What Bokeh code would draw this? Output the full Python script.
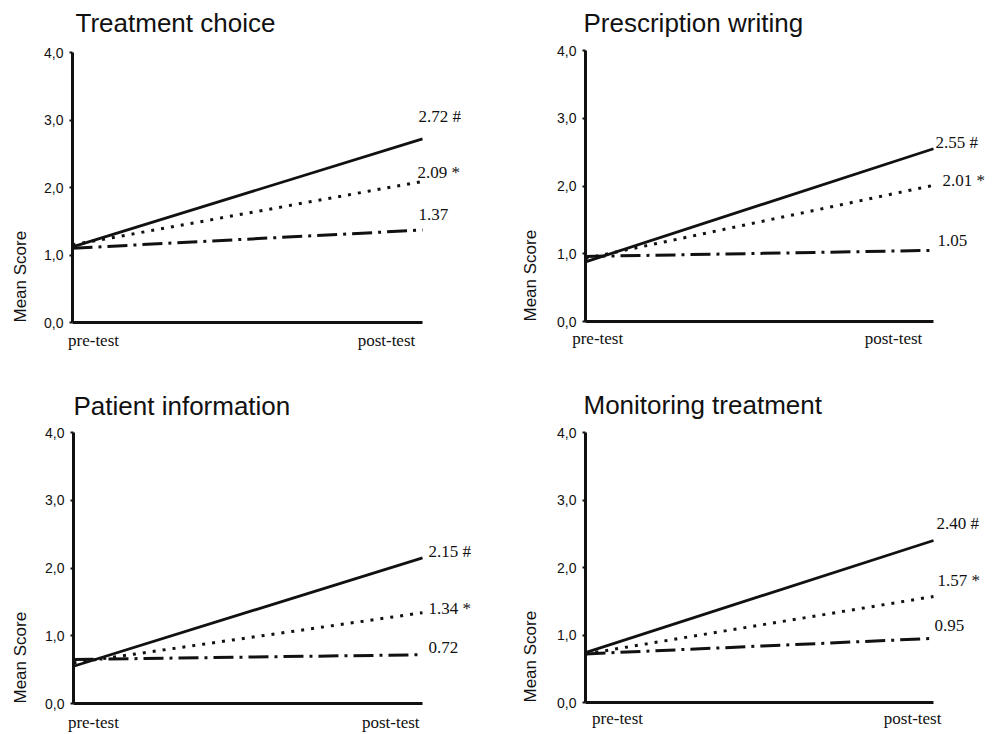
import math
from bokeh.plotting import figure
from bokeh.models import Range1d, FixedTicker, Label, LinearAxis
from bokeh.layouts import column, row
from bokeh.embed import file_html
from bokeh.resources import INLINE

# ---- data ----
categories = ["pre-test", "post-test"]
titles = ["Treatment choice", "Prescription writing", "Patient information", "Monitoring treatment"]
solid_pre = [1.12, 0.88, 0.55, 0.74]
solid_post = [2.72, 2.55, 2.15, 2.40]
dotted_pre = [1.15, 0.93, 0.60, 0.72]
dotted_post = [2.09, 2.01, 1.34, 1.57]
dashdot_pre = [1.10, 0.96, 0.65, 0.72]
dashdot_post = [1.37, 1.05, 0.72, 0.95]
solid_mark = "#"
dotted_mark = "*"
dashdot_mark = ""
y_ticks = [0, 1, 2, 3, 4]
y_tick_labels = ["0,0", "1,0", "2,0", "3,0", "4,0"]
y_label = "Mean Score"

# ---- layout / style (pixels, not data) ----
# figure width, height, axis x px, line-end x px, y(4) px, y(0) px
geom = [(497, 375, 72, 422, 52, 322),
        (493, 375, 88, 436, 50, 321),
        (497, 358, 73, 422, 57, 328),
        (493, 358, 88, 436, 57, 327)]
cat_pos = [(0.06, 0.897), (0.035, 0.885), (0.057, 0.909), (0.092, 0.94)]
cat_dy = [18, 17, 19, 16]
lab_dx = [[-4, -5, -4], [2, 9, 4], [6, 6, 6], [3, 4, 1]]
lab_dy = [[22, 9, 16], [6, 5, 10], [6, 4, 7], [17, 16, 13]]
title_dx = [3, -2, 0, -2]
title_dy = [30, 28, 27, 28]
ylab_dx = [-52, -55, -53, -55]

SANS = "Liberation Sans"
SERIF = "Liberation Serif"
INK = "#111111"


def fmt(v, mark):
    s = f"{v:.2f}"
    return f"{s} {mark}" if mark else s


def make_panel(i):
    W, H, ax, ex, y4, y0 = geom[i]
    ppx = ex - ax
    ppy = (y0 - y4) / 4.0
    xr = Range1d(-ax / ppx, (W - ax) / ppx)
    yr = Range1d(-(H - y0) / ppy, 4 + y4 / ppy)
    p = figure(width=W, height=H, output_backend="svg", toolbar_location=None,
               x_range=xr, y_range=yr, x_axis_location=None, y_axis_location=None,
               min_border=0)
    p.outline_line_color = None
    p.grid.visible = False
    p.background_fill_color = "white"
    p.border_fill_color = "white"

    # y axis at x = 0
    yax = LinearAxis(fixed_location=0, bounds=(0, 4))
    yax.ticker = FixedTicker(ticks=y_ticks)
    yax.major_label_overrides = {t: l for t, l in zip(y_ticks, y_tick_labels)}
    yax.major_label_text_font = SANS
    yax.major_label_text_font_size = "14px"
    yax.major_label_text_color = INK
    yax.major_label_standoff = 6
    yax.major_tick_out = 3
    yax.major_tick_in = 0
    yax.major_tick_line_width = 2
    yax.major_tick_line_color = INK
    yax.minor_tick_line_color = None
    yax.axis_line_width = 3
    yax.axis_line_color = INK
    p.add_layout(yax, "left")

    # x axis at y = 0 (line only; category labels drawn below)
    xax = LinearAxis(fixed_location=0, bounds=(0, 1))
    xax.ticker = FixedTicker(ticks=[])
    xax.major_label_text_font_size = "0px"
    xax.major_tick_line_color = None
    xax.minor_tick_line_color = None
    xax.axis_line_width = 3
    xax.axis_line_color = INK
    p.add_layout(xax, "below")

    xs = [0, 1]
    p.line(xs, [dashdot_pre[i], dashdot_post[i]], line_color=INK, line_width=3,
           line_dash="20 6 3 6")
    p.line(xs, [dotted_pre[i], dotted_post[i]], line_color=INK, line_width=3,
           line_dash="3 7")
    p.line(xs, [solid_pre[i], solid_post[i]], line_color=INK, line_width=2.8)

    series = [(solid_post[i], solid_mark), (dotted_post[i], dotted_mark),
              (dashdot_post[i], dashdot_mark)]
    for k, (v, mark) in enumerate(series):
        p.add_layout(Label(x=1, y=v, text=fmt(v, mark), x_offset=lab_dx[i][k],
                           y_offset=lab_dy[i][k], text_font=SERIF,
                           text_font_size="17px", text_color=INK,
                           text_align="left", text_baseline="middle"))

    for c, xp in zip(categories, cat_pos[i]):
        p.add_layout(Label(x=xp, y=0, text=c, y_offset=-cat_dy[i], text_font=SERIF,
                           text_font_size="17px", text_color=INK,
                           text_align="center", text_baseline="middle"))

    p.add_layout(Label(x=0, y=0, text=y_label, x_offset=ylab_dx[i], angle=math.pi / 2,
                       text_font=SANS, text_font_size="17px", text_color=INK,
                       text_align="left", text_baseline="middle"))

    p.add_layout(Label(x=0, y=4, text=titles[i], x_offset=title_dx[i],
                       y_offset=title_dy[i], text_font=SANS, text_font_size="26px",
                       text_color=INK, text_align="left", text_baseline="alphabetic"))
    return p


panels = [make_panel(i) for i in range(4)]
layout = column(row(panels[0], panels[1]), row(panels[2], panels[3]))

with open("out.html", "w") as f:
    f.write(file_html(layout, INLINE))
